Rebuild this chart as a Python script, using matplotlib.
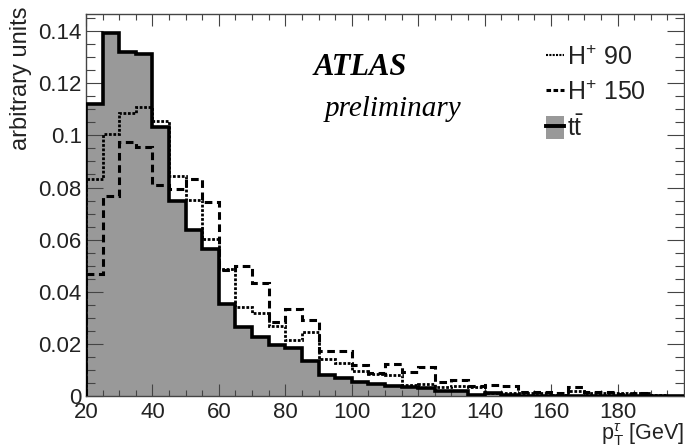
import numpy as np
import matplotlib
matplotlib.use('Agg')
import matplotlib.pyplot as plt
from matplotlib.patches import Patch
from matplotlib.lines import Line2D

# 5 GeV bins from 20 to 200 GeV
bin_edges = np.arange(20, 205, 5)

tt = [0.112, 0.139, 0.132, 0.131, 0.103, 0.0747, 0.0636, 0.0563, 0.0355, 0.0265,
      0.0229, 0.0197, 0.0186, 0.0137, 0.0082, 0.0069, 0.0055, 0.0046, 0.0039, 0.0035,
      0.0034, 0.0022, 0.0022, 0.0006, 0.0012, 0.0004, 0.0003, 0.0003, 0.0002, 0.0002,
      0.0003, 0.0002, 0.0002, 0.0002, 0.0000, 0.0002]

hplus90 = [0.0833, 0.1006, 0.1087, 0.111, 0.1055, 0.0846, 0.0754, 0.0604, 0.0488, 0.0344,
           0.0319, 0.027, 0.0216, 0.0248, 0.0144, 0.0127, 0.0099, 0.0085, 0.0082, 0.0045,
           0.0047, 0.0037, 0.004, 0.0037, 0.0013, 0.0013, 0.0015, 0.0015, 0.0006, 0.002,
           0.0012, 0.0014, 0.0015, 0.0012, 0.0004, 0.0001]

hplus150 = [0.047, 0.0767, 0.0975, 0.0956, 0.081, 0.0796, 0.0832, 0.0744, 0.0485, 0.0498,
            0.0434, 0.0287, 0.0334, 0.0293, 0.0175, 0.0173, 0.0122, 0.0091, 0.0123, 0.0095,
            0.0114, 0.0056, 0.0063, 0.0041, 0.0044, 0.0041, 0.0018, 0.0018, 0.0012, 0.0037,
            0.0018, 0.0018, 0.001, 0.0015, 0.0003, 0.0001]

labels = [r'H$^{+}$ 90', r'H$^{+}$ 150', r't$\bar{\rm t}$']

plt.rcParams['font.family'] = ['Liberation Sans', 'DejaVu Sans']
plt.rcParams['mathtext.fontset'] = 'custom'
plt.rcParams['mathtext.rm'] = 'Liberation Sans'
plt.rcParams['mathtext.it'] = 'Liberation Sans:italic'

fig = plt.figure(figsize=(6.85, 4.48), dpi=100)
ax = fig.add_axes([0.1255, 0.115, 0.873, 0.854])

grey = '#999999'
ax.stairs(tt, bin_edges, fill=True, color=grey, zorder=1)
ax.stairs(hplus90, bin_edges, color='black', lw=2.0, ls=(0, (1, 0.6)), zorder=2)
ax.stairs(hplus150, bin_edges, color='black', lw=2.2, ls=(0, (2.5, 1.5)), zorder=2)
ax.stairs(tt, bin_edges, color='black', lw=2.6, zorder=3)

ax.set_xlim(20, 200)
ax.set_ylim(0, 0.1465)
ax.set_xticks(np.arange(20, 200, 20))
ax.set_xticks(np.arange(20, 200, 5), minor=True)
ax.set_yticks(np.arange(0, 0.141, 0.02))
ax.set_yticks(np.arange(0, 0.146, 0.005), minor=True)
ax.set_xticklabels([str(v) for v in range(20, 200, 20)])
ax.set_yticklabels(['0', '0.02', '0.04', '0.06', '0.08', '0.1', '0.12', '0.14'])

for s in ax.spines.values():
    s.set_color('#444444')
    s.set_linewidth(1.0)
ax.tick_params(axis='both', which='both', direction='in', top=True, right=True,
               color='#444444', width=0.8, labelsize=16, labelcolor='#222222')
ax.tick_params(axis='x', which='major', length=8.5, pad=4)
ax.tick_params(axis='x', which='minor', length=4.3)
ax.tick_params(axis='y', which='major', length=12, pad=3)
ax.tick_params(axis='y', which='minor', length=6.5)

fig.text(0.031, 0.985, 'arbitrary units', rotation=90, ha='center', va='top',
         fontsize=17, color='#222222')
fig.text(0.999, 0.0, r'p$_{\rm T}^{\tau}$ [GeV]', ha='right', va='bottom',
         fontsize=15.5, color='#222222')

ax.text(0.458, 0.859, 'ATLAS', transform=ax.transAxes, ha='center', va='center',
        fontsize=22, fontweight='bold', fontstyle='italic', family='Liberation Serif')
ax.text(0.513, 0.752, 'preliminary', transform=ax.transAxes, ha='center', va='center',
        fontsize=21, fontstyle='italic', family='Liberation Serif')

handles = [Line2D([], [], color='black', lw=1.5, ls=(0, (1, 0.6))),
           Line2D([], [], color='black', lw=2.2, ls=(0, (1.5, 0.8))),
           (Patch(facecolor=grey, edgecolor='none'), Line2D([], [], color='black', lw=2.8))]
leg = ax.legend(handles, labels, loc='upper left', bbox_to_anchor=(0.752, 0.945),
                frameon=False, fontsize=18, handlelength=0.75, handleheight=1.0,
                handletextpad=0.1, labelspacing=0.42, borderaxespad=0)
for t in leg.get_texts():
    t.set_color('#222222')

fig.savefig('out.png', dpi=100)
